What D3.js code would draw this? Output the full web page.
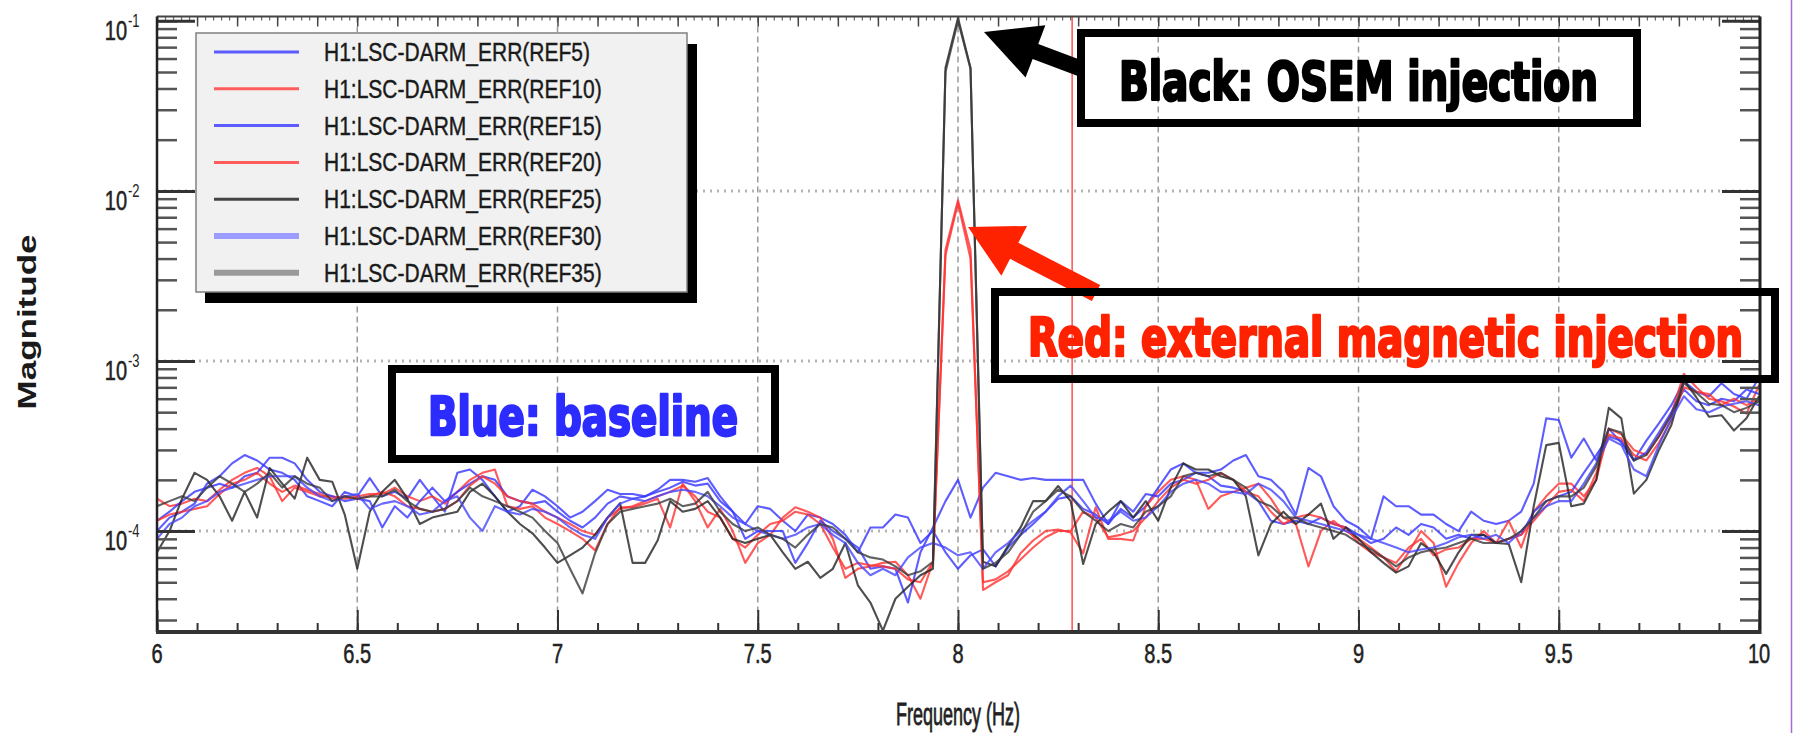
<!DOCTYPE html>
<html>
<head>
<meta charset="utf-8">
<script src="https://cdn.jsdelivr.net/npm/d3@7"></script>
<style>
  body { margin: 0; background: #fff; }
  svg { display: block; }
</style>
</head>
<body>
<svg id="chart" width="1794" height="733"></svg>
<script>
var width = 1794, height = 733;
var plot = { left: 157, right: 1760, top: 16.5, bottom: 632 };

// Spectra are sampled every 1/32 Hz from 6 Hz to 10 Hz (129 bins).
// Values are in units of 1e-4.
var freqStart = 6, freqStep = 1 / 32;
var unit = 1e-4;

var ref5 = [
  1.0, 1.2, 1.3, 1.45, 1.9, 2.1, 2.5, 2.8, 2.6, 2.3, 2.2, 2.0, 1.6, 1.5, 1.4, 1.7, 1.6, 2.05, 1.6, 1.7, 1.55, 2.0, 1.6, 1.3, 2.2, 2.3, 2.0,
  1.6, 1.3, 1.4, 1.75, 1.6, 1.4, 1.2, 1.3, 1.5, 1.75, 1.65, 1.65, 1.6, 1.75, 2.0, 2.0, 1.95, 2.05, 1.6, 1.3, 1.1, 1.4, 1.35, 1.15, 1.0, 1.25, 1.2,
  1.1, 0.95, 0.75, 1.05, 1.05, 1.25, 1.2, 0.85, 1.0, 0.75, 0.6, 0.72, 0.78, 0.62, 0.8, 0.95, 1.1, 1.3, 1.55, 1.6, 1.35, 1.25, 1.1, 1.35, 1.2, 1.4, 1.8,
  2.3, 2.5, 2.2, 2.2, 2.3, 2.6, 2.8, 2.1, 2.0, 1.7, 1.25, 2.35, 2.1, 1.4, 1.15, 1.05, 0.9, 1.6, 1.4, 1.4, 1.25, 1.25, 1.1, 1.0, 1.3, 1.15,
  1.1, 1.15, 1.3, 1.9, 4.6, 4.5, 2.7, 3.5, 2.6, 4.0, 3.3, 2.6, 3.4, 4.3, 5.5, 7.6, 6.6, 6.2, 7.4, 6.4, 6.0, 8.0
];
var ref10 = [
  1.55, 1.4, 1.45, 1.55, 1.5, 1.75, 2.0, 2.2, 2.35, 2.1, 1.5, 1.8, 1.7, 1.6, 1.6, 1.55, 1.6, 1.65, 1.65, 1.8, 1.6, 1.5, 1.6, 1.45, 1.7, 2.0, 2.2,
  2.3, 1.4, 1.35, 1.4, 1.2, 1.1, 1.0, 0.9, 0.77, 1.1, 1.38, 1.38, 1.45, 1.55, 1.05, 1.9, 1.5, 1.05, 1.35, 1.0, 0.65, 0.85, 0.95, 1.2, 1.38, 1.3, 1.2,
  0.9, 0.53, 0.6, 0.62, 0.65, 0.66, 0.55, 0.4, 0.66, 45, 88, 45, 0.45, 0.5, 0.55, 0.74, 0.88, 1.0, 1.02, 0.98, 0.74, 1.38, 0.9, 0.9, 0.88, 1.4, 1.7,
  2.0, 2.1, 2.0, 1.35, 1.6, 1.7, 1.8, 1.9, 1.55, 1.2, 1.1, 0.62, 1.0, 1.15, 1.0, 0.9, 0.8, 0.7, 0.58, 0.75, 1.0, 0.85, 0.47, 0.65, 0.85, 1.0,
  0.85, 1.15, 0.8, 1.3, 1.6, 1.9, 1.9, 1.6, 2.0, 4.0, 3.7, 3.0, 2.8, 3.6, 4.9, 8.4, 7.0, 6.0, 5.8, 5.4, 4.9, 7.2
];
var ref15 = [
  1.15, 1.3, 1.5, 1.7, 1.8, 1.9, 1.8, 2.1, 2.2, 2.7, 2.7, 2.5, 2.0, 1.7, 1.6, 1.5, 1.55, 1.5, 1.05, 1.4, 1.2, 1.5, 1.8, 1.5, 1.7, 1.9, 2.1,
  2.0, 1.6, 1.5, 1.45, 1.5, 1.3, 1.15, 1.05, 1.2, 1.45, 1.6, 1.55, 1.6, 1.7, 1.8, 1.95, 1.85, 1.9, 1.5, 1.3, 0.9, 1.0, 1.0, 1.0, 0.65, 0.85, 1.15,
  1.0, 0.9, 0.8, 0.6, 0.62, 0.6, 0.38, 0.75, 1.05, 1.5, 2.0, 1.2, 1.8, 2.2, 2.1, 2.0, 2.05, 2.0, 2.0, 2.0, 2.0, 1.45, 1.1, 1.5, 1.3, 1.65, 1.6,
  1.9, 2.0, 2.2, 2.1, 1.85, 1.8, 1.7, 1.5, 1.15, 1.1, 1.15, 1.1, 1.2, 1.1, 1.05, 0.95, 0.85, 0.9, 1.05, 0.95, 1.1, 1.05, 0.9, 0.95, 0.9, 0.95,
  0.85, 0.9, 0.95, 1.3, 1.5, 1.6, 1.7, 2.2, 2.8, 3.6, 3.4, 2.6, 2.9, 3.8, 5.0, 6.8, 5.8, 5.5, 6.0, 5.8, 6.8, 6.4
];
var ref20 = [
  1.15, 1.25, 1.3, 1.35, 1.4, 1.65, 1.9, 2.0, 2.2, 1.9, 1.7, 1.85, 1.75, 1.65, 1.55, 1.6, 1.55, 1.6, 1.7, 1.6, 1.4, 1.35, 1.3, 1.35, 1.5, 1.85, 2.1,
  1.9, 1.6, 1.5, 1.45, 1.3, 1.2, 1.1, 1.0, 0.95, 1.2, 1.35, 1.4, 1.5, 1.6, 1.7, 1.85, 1.6, 1.3, 1.2, 0.9, 0.8, 0.95, 1.1, 1.15, 1.3, 1.25, 1.1,
  0.8, 0.6, 0.65, 0.63, 0.62, 0.6, 0.52, 0.5, 0.66, 42, 85, 40, 0.5, 0.52, 0.58, 0.68, 0.8, 0.92, 1.0, 1.0, 1.3, 1.2, 0.92, 0.95, 1.0, 1.2, 1.5,
  1.8, 2.0, 1.9, 2.0, 2.2, 2.0, 1.7, 1.6, 1.3, 1.1, 1.2, 1.25, 1.2, 1.1, 1.05, 0.85, 0.75, 0.7, 0.65, 0.8, 0.9, 0.72, 0.78, 0.8, 0.9, 0.9,
  0.85, 0.9, 0.95, 1.15, 1.4, 1.7, 1.75, 1.5, 2.2, 3.7, 3.5, 2.8, 2.6, 3.3, 4.5, 7.0, 6.6, 6.4, 5.5, 6.0, 5.5, 6.0
];
var ref25 = [
  0.75, 1.0, 1.55, 2.2, 2.0, 1.6, 1.15, 1.7, 1.2, 2.35, 1.9, 1.55, 2.7, 2.0, 1.95, 1.25, 0.6, 1.3, 1.7, 2.0, 1.55, 1.1, 1.2, 1.25, 1.3, 1.7, 1.9,
  1.6, 1.3, 1.1, 0.97, 0.8, 0.65, 0.72, 0.8, 0.95, 1.2, 1.46, 0.65, 0.65, 0.88, 1.5, 1.3, 1.35, 1.5, 1.2, 0.9, 0.85, 0.9, 0.95, 0.75, 0.6, 0.66, 0.53,
  0.6, 0.85, 0.48, 0.38, 0.26, 0.4, 0.47, 0.55, 0.6, 530, 1040, 530, 0.66, 0.62, 0.82, 1.05, 1.5, 1.5, 1.84, 1.5, 0.64, 1.1, 1.3, 1.5, 1.2, 1.5, 1.15,
  1.8, 2.5, 2.3, 2.3, 2.1, 2.0, 1.6, 0.72, 1.1, 1.3, 1.1, 1.25, 1.45, 0.9, 1.05, 0.9, 0.75, 0.65, 0.57, 0.62, 0.85, 0.75, 0.56, 0.75, 0.95, 0.95,
  0.85, 0.84, 0.5, 1.4, 3.2, 3.3, 1.4, 1.45, 2.0, 5.3, 4.6, 1.66, 2.0, 3.0, 4.2, 7.7, 6.1, 4.7, 4.8, 3.9, 4.6, 6.2
];
var ref30 = [
  0.9, 1.1, 1.2, 1.4, 1.5, 1.7, 1.8, 1.9, 2.0, 2.1, 2.1, 2.1, 1.8, 1.6, 1.5, 1.6, 1.65, 1.35, 1.45, 1.5, 1.4, 1.25, 1.3, 1.5, 1.6, 1.2, 1.0,
  1.4, 1.3, 1.25, 1.35, 1.3, 1.2, 1.05, 0.95, 0.9, 1.2, 1.45, 1.55, 1.5, 1.6, 1.7, 1.75, 1.7, 1.6, 1.4, 1.2, 1.1, 1.0, 0.95, 0.9, 0.95, 1.05, 1.1,
  0.95, 0.85, 0.65, 0.55, 0.6, 0.55, 0.7, 0.8, 0.85, 0.8, 0.72, 0.75, 0.6, 0.75, 0.85, 1.0, 1.15, 1.3, 1.6, 1.85, 1.5, 1.2, 1.15, 1.3, 1.15, 1.2, 1.4,
  1.7, 1.9, 2.0, 1.9, 1.7, 1.7, 1.65, 1.9, 1.75, 1.5, 1.2, 1.15, 1.1, 1.05, 1.0, 0.95, 0.9, 0.85, 0.8, 0.75, 0.78, 0.8, 0.85, 0.92, 0.95, 0.9,
  0.95, 0.85, 1.0, 1.2, 1.4, 1.5, 1.5, 1.9, 2.5, 3.5, 3.2, 2.3, 2.1, 3.2, 4.6, 6.2, 5.2, 5.0, 5.4, 5.6, 5.8, 5.5
];
var ref35 = [
  1.4, 1.5, 1.6, 1.5, 1.8, 2.1, 1.9, 1.7, 1.9, 2.2, 1.8, 2.1, 1.9, 1.8, 1.5, 1.6, 1.55, 1.6, 1.6, 1.75, 1.5, 1.35, 1.3, 1.35, 1.5, 1.8, 1.6,
  1.5, 1.4, 1.3, 1.2, 1.0, 0.85, 0.6, 0.43, 0.74, 1.1, 1.3, 1.35, 1.4, 1.45, 1.55, 1.4, 1.45, 1.7, 1.3, 1.1, 1.0, 1.05, 0.95, 0.9, 0.8, 0.95, 1.1,
  1.05, 0.9, 0.75, 0.7, 0.68, 0.62, 0.55, 0.58, 0.66, 500, 1000, 520, 0.6, 0.65, 0.75, 0.95, 1.3, 1.5, 1.75, 1.6, 1.3, 1.15, 1.0, 1.1, 1.05, 1.3, 1.4,
  1.6, 2.1, 2.2, 2.1, 2.2, 2.0, 1.8, 1.5, 1.4, 1.2, 1.2, 1.1, 1.05, 1.0, 0.95, 0.85, 0.78, 0.7, 0.62, 0.7, 0.75, 0.78, 0.8, 0.85, 0.9, 0.85,
  0.85, 0.9, 1.0, 1.2, 1.5, 1.6, 1.6, 1.8, 2.4, 4.0, 3.8, 2.6, 2.8, 3.6, 4.8, 7.4, 6.5, 5.6, 5.5, 5.0, 5.3, 5.8
];

var seriesNames = [
  "H1:LSC-DARM_ERR(REF5)", "H1:LSC-DARM_ERR(REF10)", "H1:LSC-DARM_ERR(REF15)", "H1:LSC-DARM_ERR(REF20)",
  "H1:LSC-DARM_ERR(REF25)", "H1:LSC-DARM_ERR(REF30)", "H1:LSC-DARM_ERR(REF35)"
];
var seriesValues = [ref5, ref10, ref15, ref20, ref25, ref30, ref35];

var xTicks = [6, 6.5, 7, 7.5, 8, 8.5, 9, 9.5, 10];
var xTickLabels = ["6", "6.5", "7", "7.5", "8", "8.5", "9", "9.5", "10"];
var yDecades = [-1, -2, -3, -4];
var markerFreq = 8.285;

var lineColors = ["#3535ff", "#ff3030", "#3535ff", "#ff3030", "#222222", "#4545ff", "#3a3a3a"];
var legendColors = ["#5c5cff", "#ff5c5c", "#5c5cff", "#ff5c5c", "#444444", "#9c9cff", "#9a9a9a"];
var legendWidths = [3, 3, 3, 3, 3, 6, 6];

var svg = d3.select("#chart");

var x = d3.scaleLinear().domain([6, 10]).range([plot.left, plot.right - 1]);
var y = d3.scaleLog().domain([2.55e-5, 0.106]).range([plot.bottom, plot.top]);

svg.append("rect").attr("width", width).attr("height", height).attr("fill", "#fff");

// Grid.
var grid = svg.append("g");
grid.selectAll(".vgrid")
  .data(xTicks.slice(1, -1))
  .enter().append("line")
    .attr("x1", d => x(d)).attr("x2", d => x(d))
    .attr("y1", plot.top).attr("y2", plot.bottom)
    .attr("stroke", "#9a9a9a")
    .attr("stroke-width", 1.5)
    .attr("stroke-dasharray", "6,4");
grid.selectAll(".hgrid")
  .data(yDecades.slice(1))
  .enter().append("line")
    .attr("x1", plot.left).attr("x2", plot.right)
    .attr("y1", d => y(Math.pow(10, d))).attr("y2", d => y(Math.pow(10, d)))
    .attr("stroke", "#b4b4b4")
    .attr("stroke-width", 3)
    .attr("stroke-dasharray", "2,5");

// Vertical marker.
svg.append("line")
  .attr("x1", x(markerFreq)).attr("x2", x(markerFreq))
  .attr("y1", plot.top).attr("y2", plot.bottom)
  .attr("stroke", "#ff5050")
  .attr("stroke-width", 1.5);

// Data.
svg.append("clipPath").attr("id", "plotClip")
  .append("rect")
    .attr("x", plot.left).attr("y", plot.top)
    .attr("width", plot.right - plot.left).attr("height", plot.bottom - plot.top);

var line = d3.line()
  .x((d, i) => x(freqStart + i * freqStep))
  .y(d => y(d * unit));

svg.append("g").attr("clip-path", "url(#plotClip)")
  .selectAll("path")
  .data(seriesValues)
  .enter().append("path")
    .attr("d", line)
    .attr("fill", "none")
    .attr("stroke", (d, i) => lineColors[i])
    .attr("stroke-width", 2.1)
    .attr("stroke-opacity", 0.8)
    .attr("stroke-linejoin", "round");

// Ticks (ROOT style, pointing inwards).
var minorX = d3.range(60, 101).map(d => d / 10);
var fineX = d3.range(300, 501).map(d => d / 50);
var logTicks = [];
for (var e = -5; e <= -1; e++) {
  for (var m = 1; m <= 9; m++) {
    var v = m * Math.pow(10, e);
    if (v > 2.55e-5 && v < 0.106) logTicks.push(v);
  }
}
var majorY = yDecades.map(d => Math.pow(10, d));

function styleAxis(g, color, w) {
  g.select(".domain").remove();
  g.selectAll("text").remove();
  g.selectAll("line").attr("stroke", color).attr("stroke-width", w);
}

svg.append("g").attr("transform", "translate(0," + plot.bottom + ")")
  .call(d3.axisBottom(x).tickValues(minorX).tickSize(-9)).call(styleAxis, "#333", 2);
svg.append("g").attr("transform", "translate(0," + plot.bottom + ")")
  .call(d3.axisBottom(x).tickValues(xTicks).tickSize(-22)).call(styleAxis, "#333", 2);
svg.append("g").attr("transform", "translate(0," + plot.top + ")")
  .call(d3.axisTop(x).tickValues(fineX).tickSize(-4)).call(styleAxis, "#666", 1.2);
svg.append("g").attr("transform", "translate(0," + plot.top + ")")
  .call(d3.axisTop(x).tickValues(minorX).tickSize(-10)).call(styleAxis, "#444", 1.5);
svg.append("g").attr("transform", "translate(" + plot.left + ",0)")
  .call(d3.axisLeft(y).tickValues(logTicks).tickSize(-20)).call(styleAxis, "#555", 2.5);
svg.append("g").attr("transform", "translate(" + plot.left + ",0)")
  .call(d3.axisLeft(y).tickValues(majorY).tickSize(-38)).call(styleAxis, "#333", 3);
svg.append("g").attr("transform", "translate(" + plot.right + ",0)")
  .call(d3.axisRight(y).tickValues(logTicks).tickSize(-20)).call(styleAxis, "#555", 2.5);
svg.append("g").attr("transform", "translate(" + plot.right + ",0)")
  .call(d3.axisRight(y).tickValues(majorY).tickSize(-38)).call(styleAxis, "#333", 3);

// Frame.
svg.append("line").attr("x1", plot.left).attr("x2", plot.right).attr("y1", plot.top).attr("y2", plot.top)
  .attr("stroke", "#444").attr("stroke-width", 2);
svg.append("line").attr("x1", plot.left).attr("x2", plot.left).attr("y1", plot.top).attr("y2", plot.bottom)
  .attr("stroke", "#222").attr("stroke-width", 2.5);
svg.append("line").attr("x1", plot.right).attr("x2", plot.right).attr("y1", plot.top).attr("y2", plot.bottom + 2)
  .attr("stroke", "#222").attr("stroke-width", 3);
svg.append("line").attr("x1", plot.left - 1).attr("x2", plot.right + 1).attr("y1", plot.bottom).attr("y2", plot.bottom)
  .attr("stroke", "#333").attr("stroke-width", 4);

// Tick labels; the reference glyphs are tall and narrow, so they get stretched vertically.
var labelFont = "'Liberation Sans', Arial, Helvetica, sans-serif";
svg.append("g").selectAll("g")
  .data(xTicks)
  .enter().append("g")
    .attr("transform", d => "translate(" + x(d) + ",663) scale(1,1.4)")
  .append("text")
    .attr("text-anchor", "middle")
    .attr("font-family", labelFont)
    .attr("font-size", 20)
    .attr("fill", "#222")
    .attr("stroke", "#222")
    .attr("stroke-width", 0.4)
    .text((d, i) => xTickLabels[i]);

var yLabels = svg.append("g").selectAll("g")
  .data(yDecades)
  .enter().append("g");
yLabels.append("g")
    .attr("transform", d => "translate(127," + (y(Math.pow(10, d)) + 19) + ") scale(1,1.4)")
  .append("text")
    .attr("text-anchor", "end")
    .attr("font-family", labelFont)
    .attr("font-size", 20)
    .attr("fill", "#222")
    .attr("stroke", "#222")
    .attr("stroke-width", 0.4)
    .text("10");
yLabels.append("g")
    .attr("transform", d => "translate(128," + (y(Math.pow(10, d)) + 6) + ") scale(1,1.4)")
  .append("text")
    .attr("font-family", labelFont)
    .attr("font-size", 13)
    .attr("fill", "#222")
    .text(d => String(d));

svg.append("g")
    .attr("transform", "translate(958,725) scale(1,1.75)")
  .append("text")
    .attr("text-anchor", "middle")
    .attr("font-family", labelFont)
    .attr("font-size", 18)
    .attr("fill", "#222")
    .attr("stroke", "#222")
    .attr("stroke-width", 0.45)
    .text("Frequency (Hz)");

svg.append("g")
    .attr("transform", "translate(36,322) rotate(-90) scale(1.4,1)")
  .append("text")
    .attr("text-anchor", "middle")
    .attr("font-family", labelFont)
    .attr("font-weight", "bold")
    .attr("font-size", 25)
    .attr("fill", "#1a1a1a")
    .text("Magnitude");

// Legend.
var legend = svg.append("g");
legend.append("rect")
  .attr("x", 205).attr("y", 44).attr("width", 492).attr("height", 259)
  .attr("fill", "#000");
legend.append("rect")
  .attr("x", 196).attr("y", 33).attr("width", 491).attr("height", 259)
  .attr("fill", "#f1f1f1")
  .attr("stroke", "#808080")
  .attr("stroke-width", 1.5);
var rows = legend.selectAll(".row")
  .data(seriesNames)
  .enter().append("g")
    .attr("transform", (d, i) => "translate(0," + (52 + i * 36.8) + ")");
rows.append("line")
  .attr("x1", 214).attr("x2", 299)
  .attr("stroke", (d, i) => legendColors[i])
  .attr("stroke-width", (d, i) => legendWidths[i]);
rows.append("g")
    .attr("transform", "translate(324,9) scale(1,1.2)")
  .append("text")
    .attr("font-family", labelFont)
    .attr("font-size", 21)
    .attr("fill", "#1a1a1a")
    .attr("stroke", "#1a1a1a")
    .attr("stroke-width", 0.35)
    .text(d => d);

// Annotations.
function arrowPoints(tail, tip, headLen, headW, shaftW) {
  var dx = tip[0] - tail[0], dy = tip[1] - tail[1];
  var len = Math.sqrt(dx * dx + dy * dy);
  var ux = dx / len, uy = dy / len;
  var nx = -uy, ny = ux;
  var bx = tip[0] - ux * headLen, by = tip[1] - uy * headLen;
  var pts = [
    [tail[0] + nx * shaftW / 2, tail[1] + ny * shaftW / 2],
    [bx + nx * shaftW / 2, by + ny * shaftW / 2],
    [bx + nx * headW / 2, by + ny * headW / 2],
    tip,
    [bx - nx * headW / 2, by - ny * headW / 2],
    [bx - nx * shaftW / 2, by - ny * shaftW / 2],
    [tail[0] - nx * shaftW / 2, tail[1] - ny * shaftW / 2]
  ];
  return pts.map(p => p.join(",")).join(" ");
}

var noteFont = "'DejaVu Sans Condensed', 'DejaVu Sans', sans-serif";
var notes = svg.append("g");

notes.append("polygon")
  .attr("points", arrowPoints([1082, 69], [984, 32], 55, 56, 16))
  .attr("fill", "#000");
notes.append("polygon")
  .attr("points", arrowPoints([1096, 293], [968, 227], 52, 56, 18))
  .attr("fill", "#ff2200");

function noteBox(bx, by, bw, bh, tx, ty, tlen, color, label) {
  notes.append("rect")
    .attr("x", bx).attr("y", by).attr("width", bw).attr("height", bh)
    .attr("fill", "none")
    .attr("stroke", "#000")
    .attr("stroke-width", 8);
  notes.append("g")
      .attr("transform", "translate(" + tx + "," + ty + ") scale(1,1.12)")
    .append("text")
      .attr("textLength", tlen)
      .attr("lengthAdjust", "spacingAndGlyphs")
      .attr("font-family", noteFont)
      .attr("font-weight", "bold")
      .attr("font-size", 48)
      .attr("fill", color)
      .attr("stroke", color)
      .attr("stroke-width", 2.2)
      .attr("stroke-linejoin", "round")
      .text(label);
}

noteBox(1081, 33, 556, 90, 1119, 100, 479, "#000000", "Black: OSEM injection");
noteBox(995, 292, 780, 87, 1028, 356, 715, "#ff2200", "Red: external magnetic injection");
noteBox(392, 369, 383, 90, 428, 435, 310, "#2c2cff", "Blue: baseline");

// Thin purple border seen at the right edge of the picture.
svg.append("line")
  .attr("x1", 1791.5).attr("x2", 1791.5).attr("y1", 0).attr("y2", height)
  .attr("stroke", "#a66ad6").attr("stroke-width", 1.5);
</script>
</body>
</html>
